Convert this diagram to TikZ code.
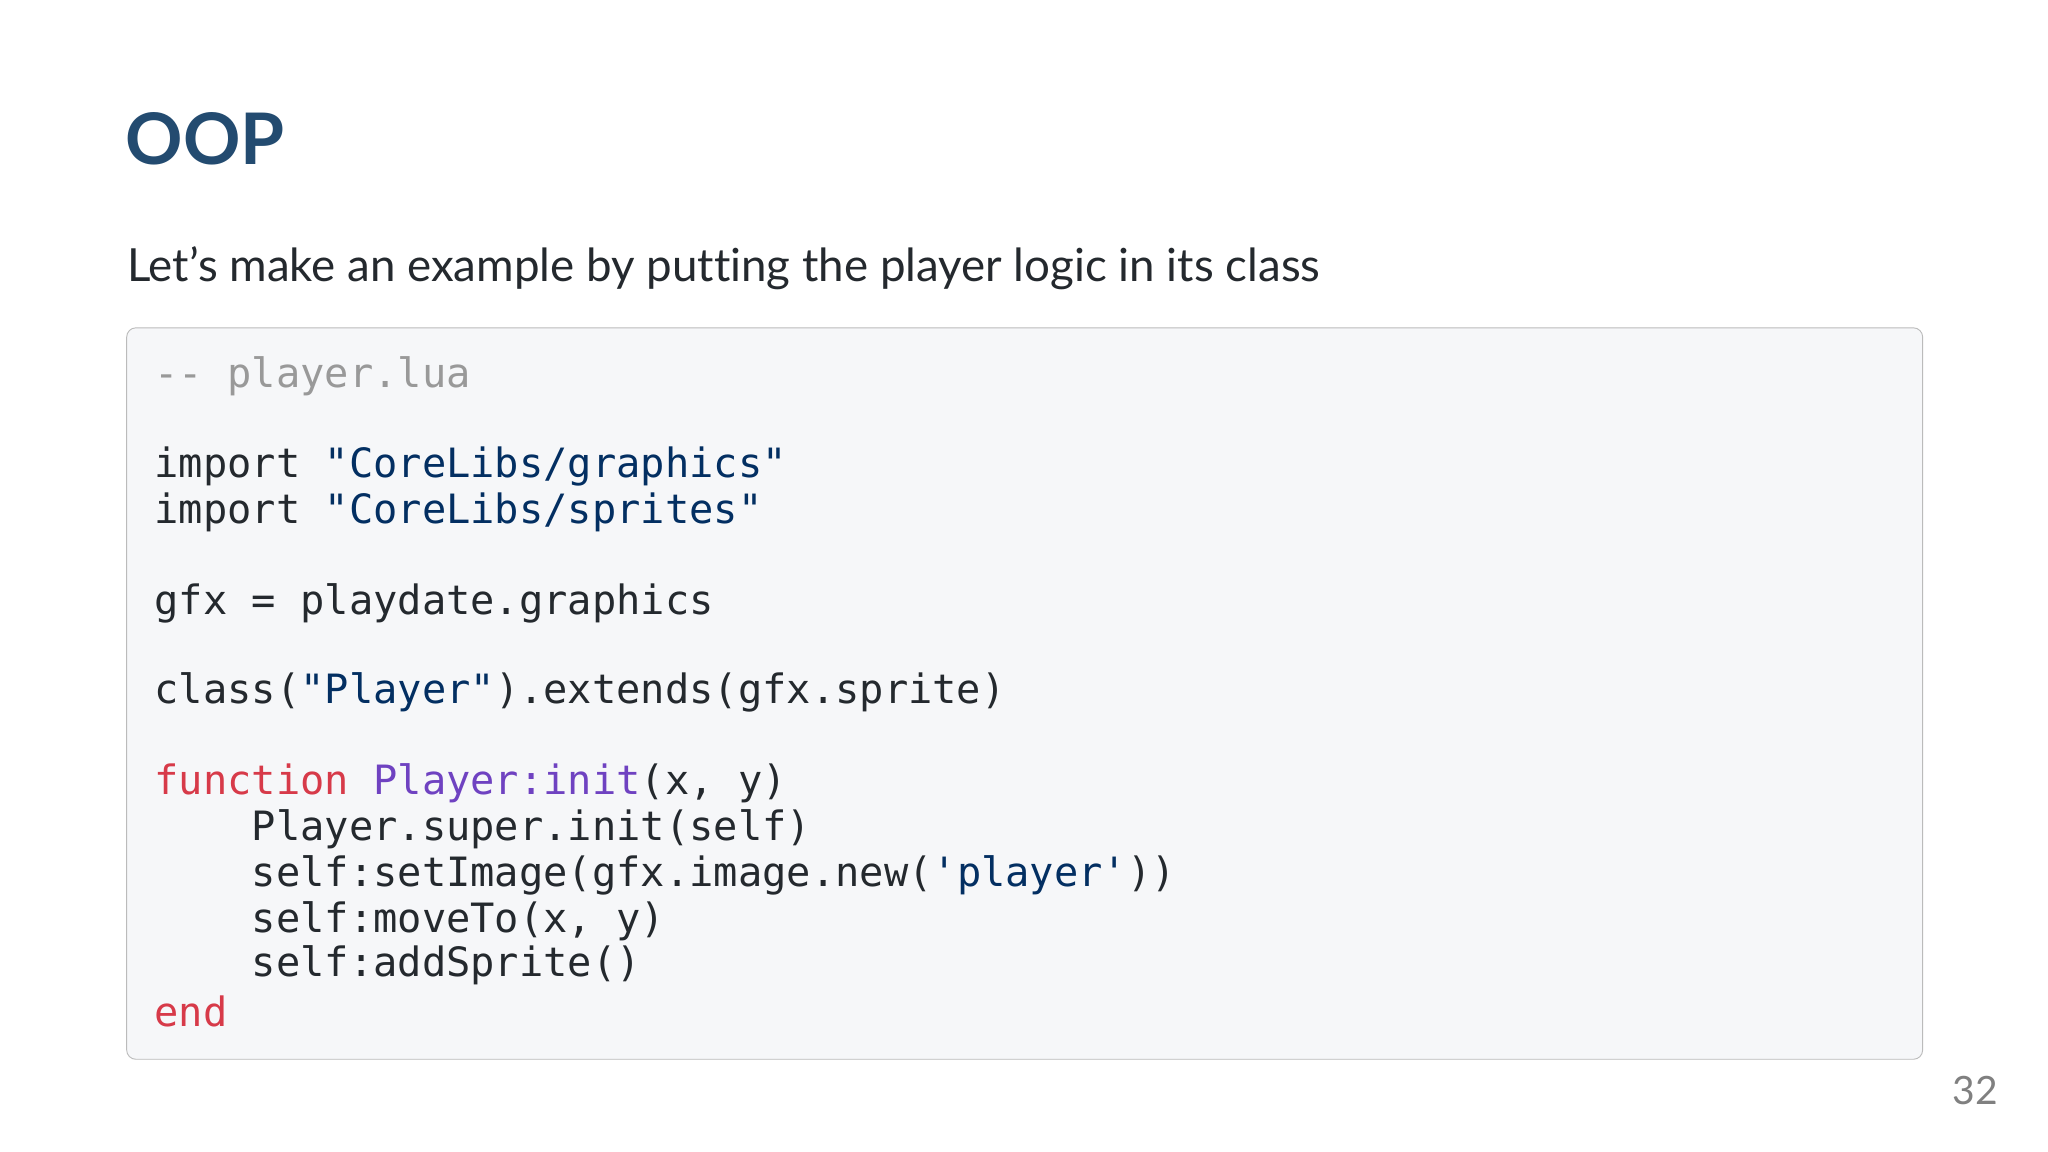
\documentclass[tikz,border=0pt]{standalone}
\usepackage{fontspec}
\setmainfont{Lato}[Ligatures=NoCommon]
\setmonofont{DejaVu Sans Mono}
\definecolor{titleblue}{HTML}{234B70}
\definecolor{txt}{HTML}{24292E}
\definecolor{cmt}{HTML}{999999}
\definecolor{str}{HTML}{032F62}
\definecolor{kw}{HTML}{D73A49}
\definecolor{fn}{HTML}{6F42C1}
\definecolor{boxbg}{HTML}{F6F7F9}
\definecolor{boxline}{HTML}{BBBBBB}
\newcommand{\cstr}[1]{\textcolor{str}{#1}}
\newcommand{\ckw}[1]{\textcolor{kw}{#1}}
\newcommand{\cfn}[1]{\textcolor{fn}{#1}}
\begin{document}
\begin{tikzpicture}[x=0.02cm,y=-0.02cm,
  codeline/.style={anchor=west,inner sep=0pt,font=\fontsize{17.6}{20}\ttfamily,text=txt}]
\useasboundingbox[fill=white] (0,0) rectangle (1568,882);
\node[anchor=west,inner sep=0pt,font=\fontsize{31}{36}\bfseries,text=titleblue] (title) at (96,106) {OOP};
\node[anchor=west,inner sep=0pt,font=\fontsize{19.9}{24}\selectfont,text=txt] (sub) at (97,205) {Let\symbol{39}s make an example by putting the player logic in its class};
\draw[boxline,fill=boxbg,rounded corners=4] (97,251) rectangle (1472,811);
\node[codeline,text=cmt] (l0) at (118,288) {-- player.lua};
\node[codeline] (l2) at (118,357) {import \cstr{"CoreLibs/graphics"}};
\node[codeline] (l3) at (118,392) {import \cstr{"CoreLibs/sprites"}};
\node[codeline] (l5) at (118,462) {gfx = playdate.graphics};
\node[codeline] (l7) at (118,530) {class(\cstr{"Player"}).extends(gfx.sprite)};
\node[codeline] (l9) at (118,600) {\ckw{function} \cfn{Player:init}(x, y)};
\node[codeline] (l10) at (118,635) {\hphantom{xxxx}Player.super.init(self)};
\node[codeline] (l11) at (118,670) {\hphantom{xxxx}self:setImage(gfx.image.new(\cstr{'player'}))};
\node[codeline] (l12) at (118,705) {\hphantom{xxxx}self:moveTo(x, y)};
\node[codeline] (l13) at (118,739) {\hphantom{xxxx}self:addSprite()};
\node[codeline,text=kw] (l14) at (118,774) {end};
\node[anchor=east,inner sep=0pt,font=\fontsize{17}{20}\selectfont,text=gray] (pg) at (1530,835) {32};
\end{tikzpicture}
\end{document}
